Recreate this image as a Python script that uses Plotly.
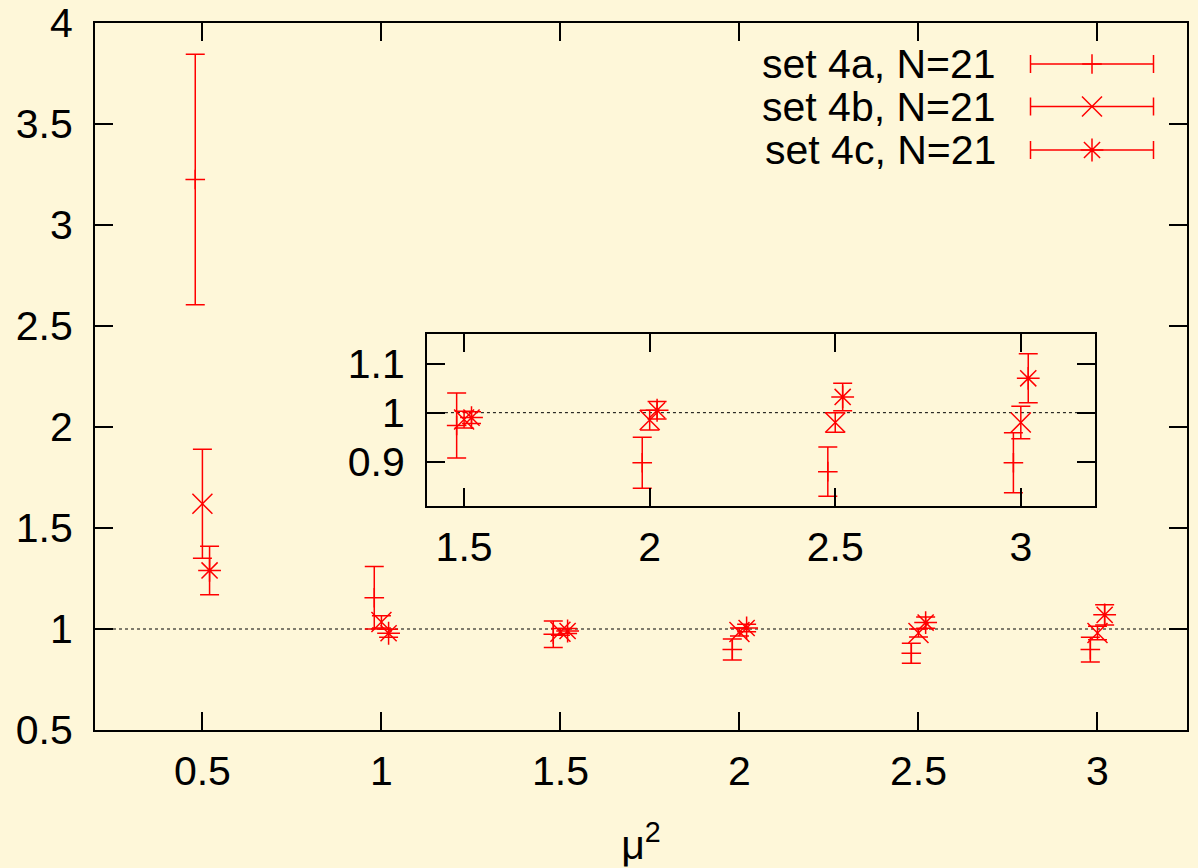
import plotly.graph_objects as go

# ---- data ----
mu2 = [0.5, 1.0, 1.5, 2.0, 2.5, 3.0]

set4a_val = [3.225, 1.155, 0.974, 0.898, 0.880, 0.898]
set4a_err = [0.620, 0.155, 0.066, 0.052, 0.050, 0.061]

set4b_val = [1.620, 1.035, 0.986, 0.985, 0.980, 0.980]
set4b_err = [0.270, 0.030, 0.017, 0.020, 0.020, 0.033]

set4c_val = [1.290, 0.979, 0.990, 1.005, 1.032, 1.070]
set4c_err = [0.120, 0.020, 0.012, 0.018, 0.028, 0.050]

series_names = ["set 4a, N=21", "set 4b, N=21", "set 4c, N=21"]
x_ticks_main = [0.5, 1.0, 1.5, 2.0, 2.5, 3.0]
y_ticks_main = [0.5, 1.0, 1.5, 2.0, 2.5, 3.0, 3.5, 4.0]
x_ticks_inset = [1.5, 2.0, 2.5, 3.0]
y_ticks_inset = [0.9, 1.0, 1.1]

# ---- styling ----
RED = "#ff0000"
BG = "#fef7d9"
FONT = "Liberation Sans, Arial, sans-serif"
FS = 41
offsets = [-0.02, 0.0, 0.02]
symbols = ["cross-thin", "x-thin", "asterisk"]
msizes = [14, 20, 19]
vals = [set4a_val, set4b_val, set4c_val]
errs = [set4a_err, set4b_err, set4c_err]

fig = go.Figure()

for axx, axy in (("x", "y"), ("x2", "y2")):
    for k in range(3):
        fig.add_trace(go.Scatter(
            x=[m + offsets[k] for m in mu2], y=vals[k],
            mode="markers", xaxis=axx, yaxis=axy, showlegend=False,
            marker=dict(symbol=symbols[k], size=msizes[k], color=RED,
                        line=dict(color=RED, width=1.5)),
            error_y=dict(type="data", array=errs[k], visible=True,
                         color=RED, thickness=1.5, width=9.5),
            cliponaxis=True,
        ))

# ---- hand-made gnuplot-style key (pixel-like overlay axes) ----
key_y = [64, 106.5, 150]
for k in range(3):
    fig.add_trace(go.Scatter(
        x=[1092], y=[key_y[k]], mode="markers", xaxis="x3", yaxis="y3",
        showlegend=False, hoverinfo="skip",
        marker=dict(symbol=symbols[k], size=msizes[k], color=RED,
                    line=dict(color=RED, width=1.5)),
        error_x=dict(type="data", array=[61.5], visible=True,
                     color=RED, thickness=1.5, width=9),
    ))
    fig.add_annotation(x=998, y=key_y[k], xref="x3", yref="y3",
                       text=series_names[k], showarrow=False,
                       xanchor="right", yanchor="middle",
                       font=dict(family=FONT, size=FS, color="black"))

axis_common = dict(showline=True, linewidth=2, linecolor="black", mirror="allticks",
                   ticks="inside", ticklen=18, tickwidth=2, tickcolor="black",
                   showgrid=False, zeroline=False, automargin=False,
                   tickfont=dict(family=FONT, size=FS, color="black"))

fig.update_layout(
    width=1198, height=868,
    margin=dict(l=95, r=11, t=23, b=138, autoexpand=False),
    paper_bgcolor=BG, plot_bgcolor="rgba(0,0,0,0)",
    font=dict(family=FONT, size=FS, color="black"),
    xaxis=dict(domain=[0, 1], range=[0.2, 3.25], tickvals=x_ticks_main,
               ticklabelstandoff=4,
               title=dict(text="μ<sup>2</sup>", font=dict(family=FONT, size=FS),
                          standoff=38),
               anchor="y", **axis_common),
    yaxis=dict(domain=[0, 1], range=[0.5, 4.0], tickvals=y_ticks_main,
               ticklabelstandoff=12, anchor="x", **axis_common),
    xaxis2=dict(domain=[0.304, 0.9158], range=[1.4, 3.2], tickvals=x_ticks_inset,
                ticklabelstandoff=4, anchor="y2", **axis_common),
    yaxis2=dict(domain=[0.3168, 0.560], range=[0.81, 1.16], tickvals=y_ticks_inset,
                ticklabelstandoff=12, anchor="x2", **axis_common),
    xaxis3=dict(overlaying="x", range=[95, 1187], visible=False, anchor="y3"),
    yaxis3=dict(overlaying="y", range=[730, 23], visible=False, anchor="x3"),
)

# dotted reference lines at 1
fig.add_shape(type="line", xref="x domain", yref="y", x0=0, x1=1, y0=1, y1=1,
              line=dict(color="black", width=1, dash="dot"), layer="below")
fig.add_shape(type="line", xref="x2 domain", yref="y2", x0=0, x1=1, y0=1, y1=1,
              line=dict(color="black", width=1, dash="dot"), layer="below")

fig.write_html("out.html")
